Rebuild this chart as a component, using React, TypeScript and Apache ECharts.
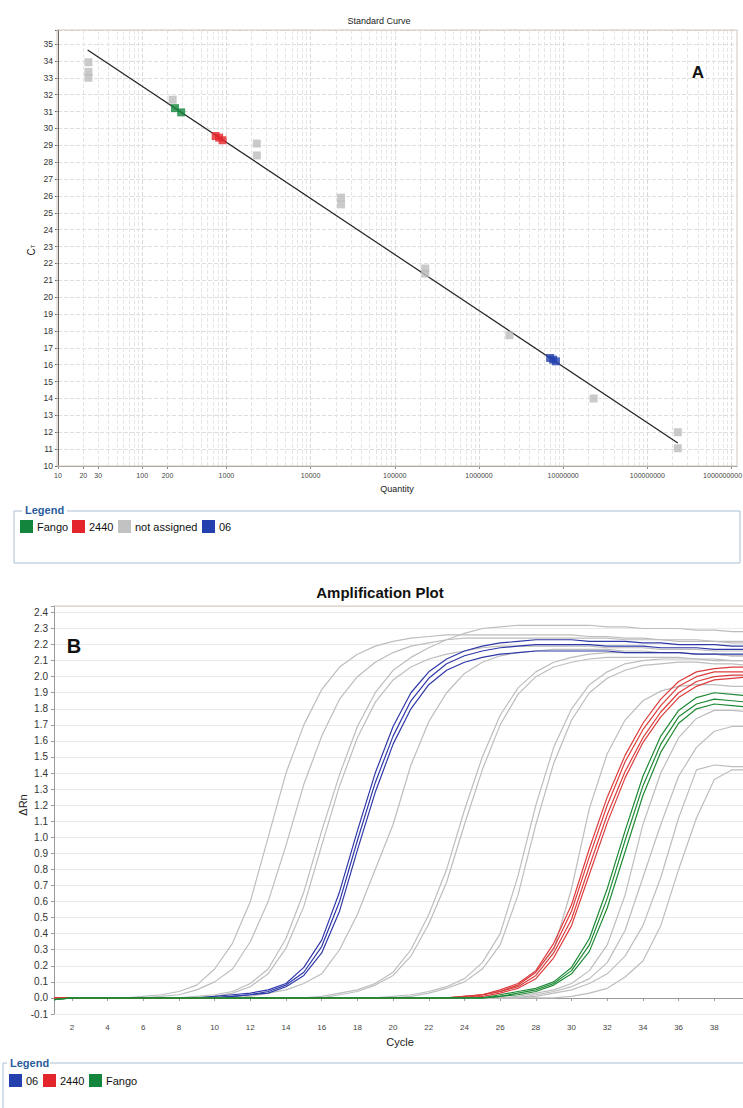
import React, { useEffect, useRef } from "react";
import * as echarts from "echarts";

const FONT = 'Arial, "Liberation Sans", Helvetica, sans-serif';

// ---------- A: Standard Curve ----------
const stdQuantity = [23, 23, 23, 230, 2300, 2300, 23000, 23000, 230000, 230000, 2300000, 23000000, 230000000, 230000000];
const stdCt = [33.92, 33.35, 33.0, 31.7, 29.1, 28.4, 25.9, 25.5, 21.7, 21.4, 17.75, 14.0, 12.0, 11.05];
const fangoQuantity = [245, 290];
const fangoCt = [31.2, 30.95];
const s2440Quantity = [745, 820, 900];
const s2440Ct = [29.55, 29.45, 29.3];
const s06Quantity = [7000000, 7600000, 8200000];
const s06Ct = [16.4, 16.3, 16.2];
const fitQuantity = [22.5, 230000000];
const fitCt = [34.65, 11.36];
const qtyLabels = [10, 20, 30, 100, 200, 1000, 10000, 100000, 1000000, 10000000, 100000000, 1000000000];

// ---------- B: Amplification Plot ----------
const cycles = [
  1, 2, 3, 4, 5, 6, 7, 8, 9, 10, 11, 12, 13, 14, 15, 16, 17, 18, 19, 20,
  21, 22, 23, 24, 25, 26, 27, 28, 29, 30, 31, 32, 33, 34, 35, 36, 37, 38, 39, 40,
];
const cycleTicks = [2, 4, 6, 8, 10, 12, 14, 16, 18, 20, 22, 24, 26, 28, 30, 32, 34, 36, 38];

const gray01 = [
  0, 0, 0, 0, 0,
  0.01, 0.02, 0.04, 0.08, 0.18, 0.34, 0.6, 1.0, 1.4, 1.7,
  1.92, 2.06, 2.14, 2.19, 2.22, 2.24, 2.25, 2.26,
  2.26, 2.26, 2.26, 2.26, 2.26, 2.26, 2.26,
  2.25, 2.25, 2.24, 2.24, 2.23, 2.23, 2.23, 2.22, 2.22, 2.22,
];
const gray02 = [
  0, 0, 0, 0, 0, 0,
  0.01, 0.02, 0.05, 0.1, 0.18, 0.35, 0.6, 0.95, 1.33, 1.63, 1.86, 2.0, 2.09, 2.15, 2.19, 2.21, 2.23, 2.24,
  2.24, 2.24, 2.24, 2.24, 2.24, 2.24, 2.24, 2.24,
  2.23, 2.23, 2.23, 2.22, 2.22, 2.22, 2.21, 2.21,
];
const gray03 = [
  0, 0, 0, 0, 0, 0, 0, 0,
  0.01, 0.02, 0.04, 0.09, 0.18, 0.37, 0.66, 1.04, 1.39, 1.69,
  1.9, 2.04, 2.12, 2.18, 2.23, 2.27, 2.3, 2.31, 2.32, 2.32,
  2.32, 2.32, 2.32, 2.31, 2.31, 2.3, 2.3, 2.3, 2.29, 2.29,
  2.28, 2.28,
];
const gray04 = [
  0, 0, 0, 0, 0, 0, 0, 0, 0,
  0.01, 0.03, 0.07, 0.15, 0.31, 0.57, 0.95, 1.32, 1.62, 1.84,
  1.98, 2.06, 2.11, 2.14, 2.16, 2.18, 2.19, 2.19, 2.19, 2.19,
  2.19, 2.19, 2.18, 2.18, 2.18, 2.17, 2.17, 2.17, 2.16, 2.16, 2.16,
];
const gray05 = [
  0, 0, 0, 0, 0, 0, 0, 0, 0, 0, 0,
  0.01, 0.03, 0.05, 0.09, 0.15, 0.3, 0.52, 0.8, 1.08,
  1.45, 1.72, 1.9, 2.02, 2.09, 2.13, 2.15, 2.16, 2.17, 2.17,
  2.17, 2.17, 2.16, 2.16, 2.15, 2.15, 2.14, 2.14, 2.13, 2.13,
];
const gray06 = [
  0, 0, 0, 0, 0, 0, 0, 0, 0, 0, 0, 0, 0, 0, 0,
  0.01, 0.03, 0.05, 0.09, 0.16, 0.3, 0.52, 0.8, 1.17, 1.5,
  1.76, 1.93, 2.03, 2.09, 2.12, 2.14, 2.15, 2.15, 2.15, 2.15,
  2.15, 2.14, 2.14, 2.13, 2.13,
];
const gray07 = [
  0, 0, 0, 0, 0, 0, 0, 0, 0, 0, 0, 0, 0, 0, 0, 0,
  0.02, 0.04, 0.08, 0.14, 0.26, 0.46, 0.72, 1.08, 1.42, 1.7,
  1.89, 2.0, 2.06, 2.09, 2.11, 2.12, 2.12, 2.12, 2.12, 2.12,
  2.11, 2.11, 2.1, 2.1,
];
const gray08 = [
  0, 0, 0, 0, 0, 0, 0, 0, 0, 0, 0, 0, 0, 0, 0, 0, 0, 0, 0,
  0.01, 0.02, 0.04, 0.07, 0.12, 0.22, 0.4, 0.76, 1.2, 1.56,
  1.8, 1.95, 2.03, 2.08, 2.1, 2.11, 2.11, 2.11, 2.1, 2.1,
  2.1,
];
const gray09 = [
  0, 0, 0, 0, 0, 0, 0, 0, 0, 0, 0, 0, 0, 0, 0, 0, 0, 0, 0, 0,
  0.01, 0.03, 0.06, 0.1, 0.18, 0.33, 0.64, 1.08, 1.46, 1.73,
  1.9, 1.99, 2.04, 2.07, 2.08, 2.09, 2.09, 2.08, 2.08, 2.07,
];
const gray10 = [
  0, 0, 0, 0, 0, 0, 0, 0, 0, 0, 0, 0, 0, 0, 0, 0, 0, 0, 0, 0, 0, 0, 0,
  0.01, 0.02, 0.04, 0.08, 0.16, 0.3, 0.68, 1.18, 1.52, 1.73,
  1.85, 1.91, 1.94, 1.95, 1.95, 1.94, 1.94,
];
const gray11 = [
  0, 0, 0, 0, 0, 0, 0, 0, 0, 0, 0, 0, 0, 0, 0, 0, 0, 0, 0, 0, 0, 0, 0, 0, 0, 0,
  0.01, 0.03, 0.05, 0.09, 0.17, 0.33, 0.64, 1.08, 1.4, 1.62, 1.74, 1.79, 1.79, 1.78,
];
const gray12 = [
  0, 0, 0, 0, 0, 0, 0, 0, 0, 0, 0, 0, 0, 0, 0, 0, 0, 0, 0, 0, 0, 0, 0, 0, 0, 0, 0,
  0.02, 0.04, 0.07, 0.12, 0.22, 0.42, 0.75, 1.08, 1.38, 1.56, 1.66, 1.69, 1.69,
];
const gray13 = [
  0, 0, 0, 0, 0, 0, 0, 0, 0, 0, 0, 0, 0, 0, 0, 0, 0, 0, 0, 0, 0, 0, 0, 0, 0, 0, 0,
  0.01, 0.03, 0.05, 0.09, 0.15, 0.26, 0.45, 0.75, 1.12, 1.42, 1.45, 1.44, 1.44,
];
const gray14 = [
  0, 0, 0, 0, 0, 0, 0, 0, 0, 0, 0, 0, 0, 0, 0, 0, 0, 0, 0, 0, 0, 0, 0, 0, 0, 0, 0, 0, 0,
  0.01, 0.03, 0.06, 0.13, 0.23, 0.45, 0.8, 1.12, 1.36, 1.42, 1.42,
];
const blue1 = [
  0, 0, 0, 0, 0, 0, 0, 0, 0,
  0.01, 0.02, 0.03, 0.05, 0.09, 0.19, 0.36, 0.66, 1.04, 1.4,
  1.69, 1.9, 2.03, 2.11, 2.16, 2.19, 2.21, 2.22, 2.23, 2.23,
  2.23, 2.22, 2.22, 2.22, 2.21, 2.21, 2.2, 2.2, 2.2, 2.19, 2.19,
];
const blue2 = [
  0, 0, 0, 0, 0, 0, 0, 0, 0, 0,
  0.01, 0.02, 0.04, 0.08, 0.16, 0.32, 0.6, 0.98, 1.34, 1.63,
  1.85, 1.99, 2.08, 2.13, 2.16, 2.18, 2.19, 2.2, 2.2, 2.2,
  2.2, 2.19, 2.19, 2.19, 2.18, 2.18, 2.18, 2.17, 2.17, 2.17,
];
const blue3 = [
  0, 0, 0, 0, 0, 0, 0, 0, 0, 0,
  0.01, 0.02, 0.03, 0.07, 0.14, 0.28, 0.54, 0.92, 1.28, 1.58,
  1.8, 1.95, 2.04, 2.09, 2.12, 2.14, 2.15, 2.16, 2.16, 2.16,
  2.16, 2.16, 2.15, 2.15, 2.15, 2.15, 2.14, 2.14, 2.14, 2.14,
];
const red1 = [
  0, 0, 0, 0, 0, 0, 0, 0, 0, 0, 0, 0, 0, 0, 0, 0, 0, 0, 0, 0, 0, 0, 0,
  0.01, 0.02, 0.05, 0.09, 0.17, 0.34, 0.58, 0.93, 1.25, 1.51, 1.71, 1.86, 1.97, 2.03, 2.05, 2.06, 2.06,
];
const red2 = [
  0, 0, 0, 0, 0, 0, 0, 0, 0, 0, 0, 0, 0, 0, 0, 0, 0, 0, 0, 0, 0, 0, 0,
  0.01, 0.02, 0.04, 0.08, 0.16, 0.31, 0.54, 0.88, 1.2, 1.47, 1.67, 1.82, 1.94, 2.0, 2.03, 2.03, 2.03,
];
const red3 = [
  0, 0, 0, 0, 0, 0, 0, 0, 0, 0, 0, 0, 0, 0, 0, 0, 0, 0, 0, 0, 0, 0, 0,
  0.0, 0.02, 0.04, 0.07, 0.14, 0.28, 0.49, 0.82, 1.14, 1.41, 1.62, 1.78, 1.9, 1.97, 2.0, 2.01, 2.01,
];
const red4 = [
  0, 0, 0, 0, 0, 0, 0, 0, 0, 0, 0, 0, 0, 0, 0, 0, 0, 0, 0, 0, 0, 0, 0,
  0.0, 0.01, 0.03, 0.06, 0.12, 0.25, 0.45, 0.77, 1.09, 1.37, 1.59, 1.75, 1.87, 1.94, 1.98, 1.99, 2.0,
];
const green1 = [
  -0.01, 0, 0, 0, 0, 0, 0, 0, 0, 0, 0, 0, 0, 0, 0, 0, 0, 0, 0, 0, 0, 0, 0, 0, 0,
  0.02, 0.04, 0.06, 0.1, 0.19, 0.37, 0.68, 1.04, 1.38, 1.63, 1.79, 1.87, 1.9, 1.89, 1.88,
];
const green2 = [
  -0.01, 0, 0, 0, 0, 0, 0, 0, 0, 0, 0, 0, 0, 0, 0, 0, 0, 0, 0, 0, 0, 0, 0, 0, 0,
  0.01, 0.03, 0.05, 0.09, 0.17, 0.33, 0.62, 0.98, 1.32, 1.58, 1.75, 1.83, 1.86, 1.85, 1.84,
];
const green3 = [
  -0.01, 0, 0, 0, 0, 0, 0, 0, 0, 0, 0, 0, 0, 0, 0, 0, 0, 0, 0, 0, 0, 0, 0, 0, 0,
  0.01, 0.02, 0.04, 0.08, 0.15, 0.29, 0.56, 0.91, 1.26, 1.53, 1.71, 1.8, 1.83, 1.82, 1.81,
];

const grayCurves = [gray01, gray02, gray03, gray04, gray05, gray06, gray07, gray08, gray09, gray10, gray11, gray12, gray13, gray14];
const blueCurves = [blue1, blue2, blue3];
const redCurves = [red1, red2, red3, red4];
const greenCurves = [green1, green2, green3];

const C_GRAY_PT = "#bdbdbd";
const C_GREEN = "#13853c";
const C_RED = "#e3262b";
const C_BLUE = "#2340ae";

const legendA = [
  { label: "Fango", color: C_GREEN, x: 20 },
  { label: "2440", color: C_RED, x: 72 },
  { label: "not assigned", color: "#c2c2c2", x: 118 },
  { label: "06", color: C_BLUE, x: 202 },
];
const legendB = [
  { label: "06", color: C_BLUE, x: 9 },
  { label: "2440", color: C_RED, x: 43 },
  { label: "Fango", color: C_GREEN, x: 89 },
];

function pts(xs: number[], ys: number[]) {
  return xs.map((x, i) => [x, ys[i]]);
}

function txt(text: string, x: number, y: number, size: number, extra: any = {}, styleExtra: any = {}) {
  return {
    type: "text",
    x,
    y,
    z: 100,
    ...extra,
    style: {
      text,
      fontSize: size,
      fontFamily: FONT,
      fill: "#222",
      align: "center",
      verticalAlign: "middle",
      ...styleExtra,
    },
  };
}

export default function App() {
  const ref = useRef<HTMLDivElement>(null);
  useEffect(() => {
    if (!ref.current) return;
    const chart = echarts.init(ref.current, undefined, { renderer: "svg" });

    const minorGrid: any[] = [];
    for (let d = 10; d < 1e9; d *= 10) {
      for (let k = 2; k <= 9; k++) minorGrid.push({ xAxis: k * d });
    }

    const curveSeries = (arr: number[][], color: string, width: number, z: number) =>
      arr.map((vals) => ({
        type: "line",
        xAxisIndex: 1,
        yAxisIndex: 1,
        data: cycles.map((c, i) => [c, vals[i]]),
        showSymbol: false,
        symbol: "none",
        lineStyle: { color, width },
        itemStyle: { color },
        z,
        silent: true,
      }));

    const graphic: any[] = [
      {
        type: "rect",
        z: 50,
        shape: { x: 57, y: 30, width: 680, height: 436 },
        style: { fill: "none", stroke: "#cfc6bc", lineWidth: 1 },
        silent: true,
      },
      txt("Standard Curve", 379, 21, 9),
      txt("A", 698, 72, 17, {}, { fontWeight: "bold", fill: "#111" }),
      txt("Quantity", 397, 489, 9),
      {
        type: "text",
        x: 31,
        y: 250,
        rotation: Math.PI / 2,
        z: 100,
        style: {
          text: "{c|C}{t|T}",
          align: "center",
          verticalAlign: "middle",
          rich: {
            c: { fontSize: 10, fontFamily: FONT, fill: "#222" },
            t: { fontSize: 6, fontFamily: FONT, fill: "#222", verticalAlign: "bottom", padding: [4, 0, 0, 0] },
          },
        },
      },
      {
        type: "rect",
        z: 50,
        shape: { x: 14, y: 511, width: 726, height: 52 },
        style: { fill: "none", stroke: "#a9bfd4", lineWidth: 1 },
        silent: true,
      },
      txt("Legend", 22, 510, 11, {}, {
        align: "left",
        fontWeight: "bold",
        fill: "#2a5c9c",
        backgroundColor: "#fff",
        padding: [0, 3, 0, 3],
      }),
      {
        type: "line",
        z: 50,
        shape: { x1: 54, y1: 606, x2: 743, y2: 606 },
        style: { stroke: "#d2c7bb", lineWidth: 1 },
        silent: true,
      },
      txt("Amplification Plot", 380, 592, 15, {}, { fontWeight: "bold", fill: "#111" }),
      txt("B", 74, 646, 20, {}, { fontWeight: "bold", fill: "#111" }),
      txt("\u0394Rn", 23, 805, 11, { rotation: Math.PI / 2 }),
      txt("Cycle", 400, 1042, 11),
      {
        type: "polyline",
        z: 50,
        shape: { points: [[3, 1108], [3, 1063], [7, 1063]] },
        style: { fill: "none", stroke: "#a9bfd4", lineWidth: 1 },
        silent: true,
      },
      {
        type: "line",
        z: 50,
        shape: { x1: 50, y1: 1063, x2: 743, y2: 1063 },
        style: { stroke: "#a9bfd4", lineWidth: 1 },
        silent: true,
      },
      txt("Legend", 10, 1063, 11, {}, { align: "left", fontWeight: "bold", fill: "#2a5c9c" }),
    ];

    legendA.forEach((it) => {
      graphic.push({
        type: "rect",
        z: 60,
        shape: { x: it.x, y: 520, width: 13, height: 13 },
        style: { fill: it.color },
        silent: true,
      });
      graphic.push(txt(it.label, it.x + 17, 527, 11, {}, { align: "left", fill: "#111" }));
    });
    legendB.forEach((it) => {
      graphic.push({
        type: "rect",
        z: 60,
        shape: { x: it.x, y: 1074, width: 13, height: 13 },
        style: { fill: it.color },
        silent: true,
      });
      graphic.push(txt(it.label, it.x + 17, 1081, 11, {}, { align: "left", fill: "#111" }));
    });

    const option: any = {
      animation: false,
      backgroundColor: "#ffffff",
      textStyle: { fontFamily: FONT },
      grid: [
        { left: 58, right: 6, top: 30, height: 436, containLabel: false, outerBoundsMode: "none" },
        { left: 54, right: -7, top: 606, height: 408, containLabel: false, outerBoundsMode: "none" },
      ],
      xAxis: [
        {
          type: "log",
          logBase: 10,
          gridIndex: 0,
          min: 10,
          max: 1160000000,
          axisLine: { show: true, lineStyle: { color: "#8a8a8a" } },
          axisTick: { show: true, length: 3, customValues: qtyLabels, lineStyle: { color: "#8a8a8a" } },
          axisLabel: {
            customValues: qtyLabels,
            fontSize: 7,
            color: "#444",
            margin: 6,
            fontFamily: FONT,
            formatter: (v: number) => {
              const s = String(Math.round(v));
              return Math.round(v) >= 1000000000 ? "{r|" + s + "}" : s;
            },
            rich: { r: { fontSize: 7, fontFamily: FONT, color: "#444", padding: [0, 18, 0, 0] } },
          },
          splitLine: { show: true, lineStyle: { color: "#dadada", type: "dashed", width: 1 } },
          minorTick: { show: false },
        },
        {
          type: "value",
          gridIndex: 1,
          min: 1,
          max: 40,
          axisLine: { show: true, lineStyle: { color: "#9a9a9a" } },
          axisTick: { show: true, length: 3, customValues: cycleTicks, lineStyle: { color: "#9a9a9a" } },
          axisLabel: {
            customValues: cycleTicks,
            fontSize: 8,
            color: "#444",
            margin: 9,
            fontFamily: FONT,
          },
          splitLine: { show: false },
        },
      ],
      yAxis: [
        {
          type: "value",
          gridIndex: 0,
          min: 10,
          max: 35.83,
          interval: 1,
          axisLine: { show: true, lineStyle: { color: "#666" } },
          axisTick: { show: true, length: 3, lineStyle: { color: "#666" } },
          axisLabel: {
            fontSize: 8.5,
            color: "#333",
            margin: 5,
            fontFamily: FONT,
            formatter: (v: number) => (Math.abs(v - Math.round(v)) < 1e-6 ? String(Math.round(v)) : ""),
          },
          splitLine: { show: true, lineStyle: { color: "#dedede", type: "dashed", width: 1 } },
        },
        {
          type: "value",
          gridIndex: 1,
          min: -0.1,
          max: 2.44,
          interval: 0.1,
          axisLine: { show: true, lineStyle: { color: "#9a9a9a" } },
          axisTick: { show: true, length: 3, lineStyle: { color: "#9a9a9a" } },
          axisLabel: {
            fontSize: 10,
            color: "#333",
            margin: 6,
            fontFamily: FONT,
            formatter: (v: number) => {
              const r = Math.round(v * 10);
              return Math.abs(v * 10 - r) < 1e-6 ? (r / 10).toFixed(1) : "";
            },
          },
          splitLine: { show: true, lineStyle: { color: "#e9e9e9", width: 1 } },
        },
      ],
      graphic,
      series: [
        {
          type: "line",
          name: "fit",
          xAxisIndex: 0,
          yAxisIndex: 0,
          data: pts(fitQuantity, fitCt),
          showSymbol: false,
          symbol: "none",
          lineStyle: { color: "#222", width: 1.2 },
          z: 3,
          silent: true,
          markLine: {
            silent: true,
            symbol: ["none", "none"],
            label: { show: false },
            lineStyle: { color: "#e6e6e6", type: "dashed", width: 1 },
            data: minorGrid,
            z: 1,
          },
        },
        {
          type: "scatter",
          name: "not assigned",
          xAxisIndex: 0,
          yAxisIndex: 0,
          data: pts(stdQuantity, stdCt),
          symbol: "rect",
          symbolSize: [8, 8],
          itemStyle: { color: C_GRAY_PT },
          z: 4,
          silent: true,
        },
        {
          type: "scatter",
          name: "Fango",
          xAxisIndex: 0,
          yAxisIndex: 0,
          data: pts(fangoQuantity, fangoCt),
          symbol: "rect",
          symbolSize: [8, 8],
          itemStyle: { color: C_GREEN },
          z: 5,
          silent: true,
        },
        {
          type: "scatter",
          name: "2440",
          xAxisIndex: 0,
          yAxisIndex: 0,
          data: pts(s2440Quantity, s2440Ct),
          symbol: "rect",
          symbolSize: [8, 8],
          itemStyle: { color: C_RED },
          z: 5,
          silent: true,
        },
        {
          type: "scatter",
          name: "06",
          xAxisIndex: 0,
          yAxisIndex: 0,
          data: pts(s06Quantity, s06Ct),
          symbol: "rect",
          symbolSize: [8, 8],
          itemStyle: { color: C_BLUE },
          z: 5,
          silent: true,
        },
        ...curveSeries(grayCurves, "#bdbdbd", 1.2, 3),
        ...curveSeries(blueCurves, "#2f38a8", 1.2, 4),
        ...curveSeries(redCurves, "#dd3c3c", 1.2, 5),
        ...curveSeries(greenCurves, "#1f8a36", 1.2, 6),
      ],
    };
    chart.setOption(option);
    return () => chart.dispose();
  }, []);

  return (
    <div
      ref={ref}
      style={{ position: "absolute", left: 0, top: 0, width: 743, height: 1108, background: "#fff" }}
    />
  );
}
